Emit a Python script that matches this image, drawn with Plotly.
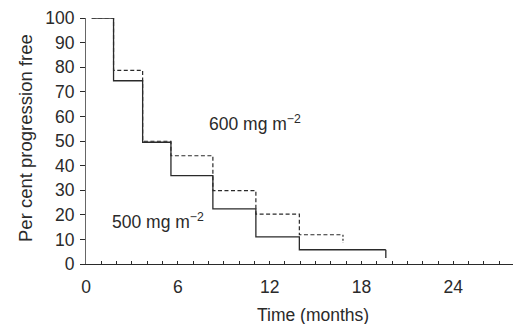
import plotly.graph_objects as go

# Step curves (time in months, per cent progression free)
solid_t = [0.37, 1.80, 3.70, 5.55, 8.29, 11.10, 13.94, 19.59]
solid_p = [100, 74.5, 49.5, 35.9, 22.4, 11.0, 5.8, 5.8]
solid_end_tick = [5.8, 2.4]

dashed_t = [0.37, 1.80, 3.70, 5.55, 8.29, 11.10, 13.94, 16.79]
dashed_p = [100, 78.7, 49.9, 44.0, 29.8, 20.3, 11.9, 11.9]
dashed_end_tick = [11.9, 8.5]

x_ticks = [0, 6, 12, 18, 24]
y_ticks = [0, 10, 20, 30, 40, 50, 60, 70, 80, 90, 100]

label_600 = "600 mg m<sup>\u22122</sup>"
label_500 = "500 mg m<sup>\u22122</sup>"
label_600_pos = (7.9, 57.2)
label_500_pos = (1.57, 17.3)

ink = "#2a2a2a"
font = "Liberation Sans, Arial, sans-serif"
fs = 17.5

fig = go.Figure()
fig.add_trace(go.Scatter(x=dashed_t, y=dashed_p, mode="lines",
                         line=dict(shape="hv", color=ink, width=1.2, dash="4px,2.5px"),
                         hoverinfo="skip"))
fig.add_trace(go.Scatter(x=[dashed_t[-1]] * 2, y=dashed_end_tick, mode="lines",
                         line=dict(color=ink, width=1.2, dash="2px,2px"), hoverinfo="skip"))
fig.add_trace(go.Scatter(x=solid_t, y=solid_p, mode="lines",
                         line=dict(shape="hv", color=ink, width=1.3),
                         hoverinfo="skip"))
fig.add_trace(go.Scatter(x=[solid_t[-1]] * 2, y=solid_end_tick, mode="lines",
                         line=dict(color=ink, width=1.3), hoverinfo="skip"))

fig.add_annotation(x=label_600_pos[0], y=label_600_pos[1], text=label_600,
                   showarrow=False, xanchor="left", yanchor="middle",
                   font=dict(family=font, size=fs, color=ink))
fig.add_annotation(x=label_500_pos[0], y=label_500_pos[1], text=label_500,
                   showarrow=False, xanchor="left", yanchor="middle",
                   font=dict(family=font, size=fs, color=ink))

fig.add_annotation(xref="paper", yref="paper", x=-0.143, y=0.512,
                   text="Per cent progression free", textangle=-90,
                   showarrow=False, xanchor="center", yanchor="middle",
                   font=dict(family=font, size=18.5, color=ink))
fig.add_annotation(xref="paper", yref="paper", x=0.532, y=-0.208,
                   text="Time (months)", showarrow=False,
                   xanchor="center", yanchor="middle",
                   font=dict(family=font, size=fs, color=ink))

fig.update_layout(
    width=517, height=324,
    margin=dict(l=86, r=4, t=18, b=60),
    paper_bgcolor="white", plot_bgcolor="white",
    showlegend=False,
    font=dict(family=font, size=fs, color=ink),
    xaxis=dict(range=[0, 27.9], tickvals=x_ticks, ticks="inside", ticklen=3,
               tickcolor=ink, tickwidth=1,
               minor=dict(ticks="inside", dtick=1, ticklen=3, tickcolor=ink, tickwidth=1),
               showline=True, linecolor=ink, linewidth=1.2, showgrid=False,
               zeroline=False, tickfont=dict(size=fs), ticklabelstandoff=7),
    yaxis=dict(range=[0, 100], tickvals=y_ticks, ticks="outside", ticklen=5,
               tickcolor=ink, tickwidth=1,
               showline=True, linecolor="#666", linewidth=1, showgrid=False,
               zeroline=False, tickfont=dict(size=fs), ticklabelstandoff=2),
)

fig.write_html("out.html")
